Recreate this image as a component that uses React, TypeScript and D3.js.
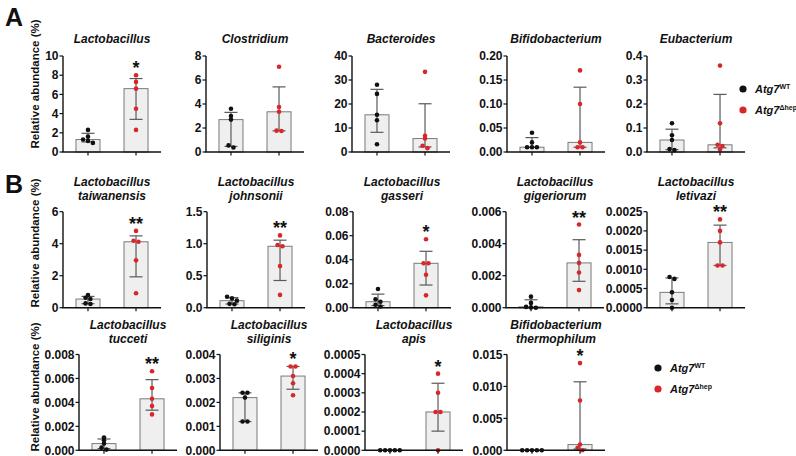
import React from "react";
import * as d3 from "d3";

// ---------- DATA ----------
const titles: string[][] = [
  ["Lactobacillus"], ["Clostridium"], ["Bacteroides"], ["Bifidobacterium"], ["Eubacterium"],
  ["Lactobacillus", "taiwanensis"], ["Lactobacillus", "johnsonii"], ["Lactobacillus", "gasseri"],
  ["Lactobacillus", "gigeriorum"], ["Lactobacillus", "letivazi"],
  ["Lactobacillus", "tucceti"], ["Lactobacillus", "siliginis"], ["Lactobacillus", "apis"],
  ["Bifidobacterium", "thermophilum"],
];

const tickLabels: string[][] = [
  ["0", "2", "4", "6", "8", "10"],
  ["0", "2", "4", "6", "8"],
  ["0", "10", "20", "30", "40"],
  ["0.00", "0.05", "0.10", "0.15", "0.20"],
  ["0.0", "0.1", "0.2", "0.3", "0.4"],
  ["0", "2", "4", "6"],
  ["0.0", "0.5", "1.0", "1.5"],
  ["0.00", "0.02", "0.04", "0.06", "0.08"],
  ["0.000", "0.002", "0.004", "0.006"],
  ["0.0000", "0.0005", "0.0010", "0.0015", "0.0020", "0.0025"],
  ["0.000", "0.002", "0.004", "0.006", "0.008"],
  ["0.000", "0.001", "0.002", "0.003", "0.004"],
  ["0.0000", "0.0001", "0.0002", "0.0003", "0.0004", "0.0005"],
  ["0.000", "0.005", "0.010", "0.015"],
];

// Atg7 WT values (per chart)
const wtValues: number[][] = [
  [2.3, 1.6, 1.3, 1.15, 0.95],
  [3.6, 3.0, 2.7, 0.55, 0.38],
  [28, 24.2, 15.5, 13.2, 3.2],
  [0.04, 0.02, 0.01, 0.01, 0.01],
  [0.12, 0.07, 0.05, 0.012, 0.008],
  [0.79, 0.62, 0.54, 0.27, 0.23],
  [0.17, 0.145, 0.11, 0.06, 0.055],
  [0.0156, 0.007, 0.005, 0.0025, 0.001],
  [0.00069, 0.0003, 0.00005, 0.00002, 0.0],
  [0.0008, 0.00075, 0.0004, 0.0002, 0.0],
  [0.00106, 0.00083, 0.00056, 0.00022, 0.00006],
  [0.0024, 0.0024, 0.0022, 0.0012, 0.0012],
  [0, 0, 0, 0, 0],
  [0, 0, 0, 0, 0],
];

// Atg7 Δhep values (per chart)
const koValues: number[][] = [
  [8.0, 7.3, 6.6, 4.5, 2.3],
  [7.1, 3.75, 3.35, 1.78, 1.75],
  [33.4, 6.8, 5.6, 2.6, 1.6],
  [0.17, 0.1, 0.02, 0.01, 0.01],
  [0.36, 0.12, 0.03, 0.025, 0.01],
  [4.8, 4.18, 4.12, 2.96, 0.9],
  [1.13, 0.98, 0.96, 0.65, 0.2],
  [0.057, 0.037, 0.037, 0.0275, 0.0103],
  [0.0052, 0.0033, 0.0028, 0.0022, 0.0011],
  [0.0023, 0.002, 0.0017, 0.0011, 0.0011],
  [0.0066, 0.0052, 0.0043, 0.0037, 0.003],
  [0.0035, 0.0035, 0.0031, 0.0028, 0.0023],
  [0.0004, 0.0003, 0.0002, 0.0002, 0.0],
  [0.01365, 0.0078, 0.0009, 0.0004, 0.0],
];

const stars: string[] = ["*", "", "", "", "", "**", "**", "*", "**", "**", "**", "*", "*", "*"];
const groups = ["WT", "Δhep"];
const gene = "Atg7";
const yLabel = "Relative abundance (%)";
const panelLetters = ["A", "B"];

// ---------- LAYOUT ----------
const FONT = "'Liberation Sans', Arial, Helvetica, sans-serif";
const BLACK = "#111111";
const RED = "#d8262b";
const PW = 98;
const R = 2.3;

const rows = [
  { top: 56, bottom: 152, titleY: [43], charts: [0, 1, 2, 3, 4], axisX: [63, 206, 352, 507, 647] },
  { top: 211.7, bottom: 307.7, titleY: [186, 200], charts: [5, 6, 7, 8, 9], axisX: [63, 207, 353, 506, 647] },
  { top: 354.5, bottom: 450.3, titleY: [329, 343], charts: [10, 11, 12, 13], axisX: [79, 220, 365, 507] },
];
const yLabelPos = [
  { x: 35, y: 84 },
  { x: 35, y: 243 },
  { x: 35, y: 387 },
];
const legendPos = [
  { x: 743, y: 89, dy: 21 },
  { x: 658, y: 368, dy: 21 },
];

function gpStats(vals: number[]) {
  const s = [...vals].sort((a, b) => a - b);
  const n = s.length;
  const get = (k: number) => s[Math.min(n, Math.max(1, k)) - 1];
  const at = (rank: number) => {
    const lo = Math.floor(rank);
    const hi = Math.ceil(rank);
    return get(lo) + (rank - lo) * (get(hi) - get(lo));
  };
  return { q1: at((n + 1) / 4), med: at((n + 1) / 2), q3: at((3 * (n + 1)) / 4) };
}

function swarm(vals: number[], y: (v: number) => number) {
  const pts = vals.map((v) => ({ v, y: y(v), dx: 0 })).sort((a, b) => a.y - b.y);
  const s = 2 * R + 0.3;
  let i = 0;
  while (i < pts.length) {
    let j = i;
    while (j + 1 < pts.length && pts[j + 1].y - pts[j].y < 2.6) j++;
    const m = j - i + 1;
    for (let k = 0; k < m; k++) pts[i + k].dx = (k - (m - 1) / 2) * s;
    i = j + 1;
  }
  return pts;
}

function Chart({ idx, ax, top, bottom, titleY }: { idx: number; ax: number; top: number; bottom: number; titleY: number[] }) {
  const ticks = tickLabels[idx].map(Number);
  const yMax = d3.max(ticks) as number;
  const y = d3.scaleLinear().domain([0, yMax]).range([bottom, top]);
  const x = d3.scaleBand().domain(groups).range([ax, ax + PW]).paddingInner(0.5).paddingOuter(0.27);
  const bw = x.bandwidth();
  const series = [wtValues[idx], koValues[idx]];
  const colors = [BLACK, RED];
  const cx = ax + PW / 2;
  const koMaxY = y(d3.max(koValues[idx]) as number);
  return (
    <g>
      {titles[idx].map((t, i) => (
        <text key={i} x={cx} y={titleY[i]} textAnchor="middle" fontSize={12} fontWeight="bold" fontStyle="italic" fill={BLACK}>
          {t}
        </text>
      ))}
      {series.map((vals, gi) => {
        const st = gpStats(vals);
        const c = (x(groups[gi]) as number) + bw / 2;
        return (
          <g key={gi}>
            <rect x={c - bw / 2} y={y(st.med)} width={bw} height={Math.max(0, bottom - y(st.med))} fill="#efefef" stroke="#7a7a7a" strokeWidth={1} />
            <line x1={c} x2={c} y1={y(st.q1)} y2={y(st.q3)} stroke="#5a5a5a" strokeWidth={1.2} />
            <line x1={c - 6.5} x2={c + 6.5} y1={y(st.q1)} y2={y(st.q1)} stroke="#5a5a5a" strokeWidth={1.2} />
            <line x1={c - 6.5} x2={c + 6.5} y1={y(st.q3)} y2={y(st.q3)} stroke="#5a5a5a" strokeWidth={1.2} />
            {swarm(vals, y).map((p, k) => (
              <circle key={k} cx={c + p.dx} cy={p.y} r={R} fill={colors[gi]} />
            ))}
          </g>
        );
      })}
      {/* axes */}
      <line x1={ax} x2={ax} y1={top} y2={bottom} stroke={BLACK} strokeWidth={1.4} />
      <line x1={ax - 0.7} x2={ax + PW} y1={bottom} y2={bottom} stroke={BLACK} strokeWidth={1.4} />
      {ticks.map((t, i) => (
        <g key={i}>
          <line x1={ax - 3.5} x2={ax} y1={y(t)} y2={y(t)} stroke={BLACK} strokeWidth={1.2} />
          <text x={ax - 4.5} y={y(t) + 4.2} textAnchor="end" fontSize={12} fontWeight="bold" fill={BLACK}>
            {tickLabels[idx][i]}
          </text>
        </g>
      ))}
      {groups.map((g) => {
        const c = (x(g) as number) + bw / 2;
        return <line key={g} x1={c} x2={c} y1={bottom} y2={bottom + 3.5} stroke={BLACK} strokeWidth={1.2} />;
      })}
      {stars[idx] && (
        <text x={(x(groups[1]) as number) + bw / 2} y={koMaxY - 1} textAnchor="middle" fontSize={18} fontWeight="bold" fill={BLACK}>
          {stars[idx]}
        </text>
      )}
    </g>
  );
}

function Legend({ x, y, dy }: { x: number; y: number; dy: number }) {
  const colors = [BLACK, RED];
  return (
    <g>
      {groups.map((g, i) => (
        <g key={g}>
          <circle cx={x} cy={y + i * dy} r={3.6} fill={colors[i]} />
          <text x={x + 12} y={y + i * dy + 4} fontSize={11} fontWeight="bold" fill={BLACK}>
            <tspan fontStyle="italic">{gene}</tspan>
            <tspan fontSize={7} dy={-4.5}>{g}</tspan>
          </text>
        </g>
      ))}
    </g>
  );
}

export default function App() {
  return (
    <div style={{ position: "fixed", left: 0, top: 0 }}>
      <svg width={796} height={456} style={{ display: "block", fontFamily: FONT }}>
        <rect width={796} height={456} fill="#ffffff" />
        <text x={5} y={26} fontSize={25} fontWeight="bold" fill={BLACK}>{panelLetters[0]}</text>
        <text x={5} y={193} fontSize={25} fontWeight="bold" fill={BLACK}>{panelLetters[1]}</text>
        {yLabelPos.map((p, i) => (
          <text key={i} transform={`translate(${p.x},${p.y}) rotate(-90)`} textAnchor="middle" dy="0.36em" fontSize={11.5} fontWeight="bold" fill={BLACK}>
            {yLabel}
          </text>
        ))}
        {rows.map((row, ri) =>
          row.charts.map((ci, k) => (
            <Chart key={`${ri}-${ci}`} idx={ci} ax={row.axisX[k]} top={row.top} bottom={row.bottom} titleY={row.titleY} />
          ))
        )}
        {legendPos.map((p, i) => (
          <Legend key={i} x={p.x} y={p.y} dy={p.dy} />
        ))}
      </svg>
    </div>
  );
}
